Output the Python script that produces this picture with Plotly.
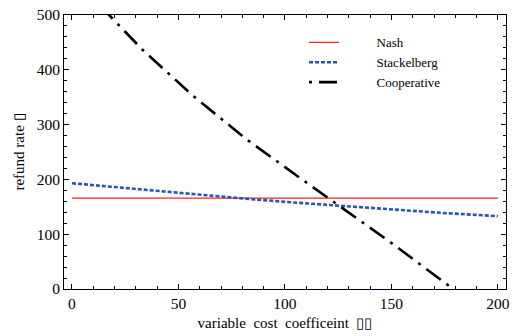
import plotly.graph_objects as go

# variable cost coefficient (x) and refund rate for each game structure
x_vals = [0, 25, 50, 75, 100, 125, 150, 175, 200]
nash = [166, 166, 166, 166, 166, 166, 166, 166, 166]
stackelberg = [193, 184, 175.5, 167, 159, 152, 145, 138.5, 133]
coop_x = [10, 18, 33, 57, 82, 108, 125, 150, 179]
cooperative = [530, 497, 437, 352, 273, 200, 153, 84, 0]

x_ticks = [0, 50, 100, 150, 200]
y_ticks = [0, 100, 200, 300, 400, 500]

serif = "Times New Roman"

fig = go.Figure()
fig.add_trace(go.Scatter(x=x_vals, y=nash, mode="lines", name="          Nash",
                         line=dict(color="#ff2020", width=1.3)))
fig.add_trace(go.Scatter(x=x_vals, y=stackelberg, mode="lines", name="          Stackelberg",
                         line=dict(color="#2a52be", width=2.6, dash="4px,2px")))
fig.add_trace(go.Scatter(x=coop_x, y=cooperative, mode="lines", name="          Cooperative",
                         line=dict(color="black", width=2.6, dash="3px,7px,18px,7px")))

axis_common = dict(
    showline=True, linecolor="black", linewidth=1, mirror="ticks",
    ticks="inside", ticklen=5, tickcolor="black", showgrid=False, zeroline=False,
    automargin=False,
    tickfont=dict(family=serif, size=15.5, color="black"),
)

fig.update_xaxes(range=[-3.75, 203.8], tickvals=x_ticks,
                 minor=dict(dtick=10, ticks="inside", ticklen=3, tickcolor="black"),
                 title=dict(text="variable  cost  coefficeint  ▯▯",
                            font=dict(family=serif, size=15, color="black"), standoff=6),
                 **axis_common)
fig.update_yaxes(range=[0, 500], tickvals=y_ticks,
                 minor=dict(dtick=20, ticks="inside", ticklen=3, tickcolor="black"),
                 title=dict(text="refund rate ▯",
                            font=dict(family=serif, size=15, color="black"), standoff=8),
                 **axis_common)

fig.update_layout(
    width=518, height=336,
    margin=dict(l=64, r=12, t=15, b=47),
    plot_bgcolor="white", paper_bgcolor="white",
    showlegend=True,
    legend=dict(x=0.543, y=0.955, xanchor="left", yanchor="top",
                bgcolor="rgba(0,0,0,0)", borderwidth=0,
                font=dict(family=serif, size=13, color="black"),
                tracegroupgap=0),
)

fig.write_html("out.html")
